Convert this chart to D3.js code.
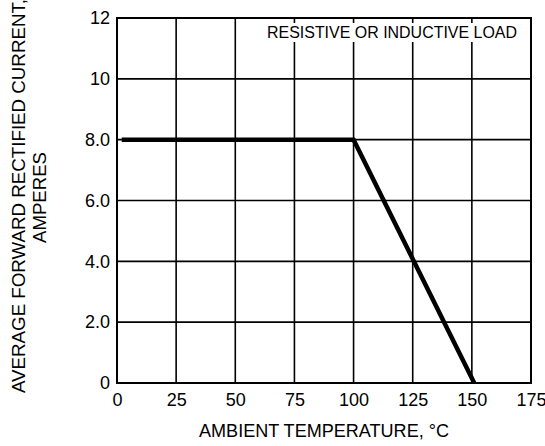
<!DOCTYPE html>
<html>
<head>
<meta charset="utf-8">
<script src="https://cdn.jsdelivr.net/npm/d3@7"></script>
<style>
  body { margin: 0; background: #fff; }
  text { font-family: "Liberation Sans", Arial, sans-serif; fill: #000; }
</style>
</head>
<body>
<svg id="chart" width="545" height="446"></svg>
<script>
// dati
const temperature = [2, 100, 151]
const corrente = [8, 8, 0]
const xTicks = [0, 25, 50, 75, 100, 125, 150, 175]
const yTicks = [0, 2, 4, 6, 8, 10, 12]
const yTickLabels = ["0", "2.0", "4.0", "6.0", "8.0", "10", "12"]
const nota = "RESISTIVE OR INDUCTIVE LOAD"

const svg = d3.select('#chart')
const pLeft = 117, pRight = 531, pTop = 18, pBottom = 383
const font = '"Liberation Sans", Arial, sans-serif'

const x = d3.scaleLinear().domain([0, 175]).range([pLeft, pRight])
const y = d3.scaleLinear().domain([0, 12]).range([pBottom, pTop])

// griglia
svg.append('g')
  .selectAll('line.vx')
  .data(xTicks.slice(1, -1)).enter()
  .append('line')
  .attr('x1', d => x(d)).attr('x2', d => x(d))
  .attr('y1', pTop).attr('y2', pBottom)
  .attr('stroke', '#000').attr('stroke-width', 1.6)

svg.append('g')
  .selectAll('line.hy')
  .data(yTicks.slice(1, -1)).enter()
  .append('line')
  .attr('x1', pLeft).attr('x2', pRight)
  .attr('y1', d => y(d)).attr('y2', d => y(d))
  .attr('stroke', '#000').attr('stroke-width', 1.6)

// nota in alto a destra con sfondo bianco
const notaText = svg.append('text')
  .attr('x', 267).attr('y', 38)
  .attr('font-size', '16px')
  .attr('textLength', 250).attr('lengthAdjust', 'spacingAndGlyphs')
  .text(nota)
const bb = notaText.node().getBBox()
svg.insert('rect', 'text')
  .attr('x', bb.x - 2).attr('y', 23)
  .attr('width', bb.width + 4).attr('height', 19)
  .attr('fill', '#fff')

// cornice
svg.append('rect')
  .attr('x', pLeft).attr('y', pTop)
  .attr('width', pRight - pLeft).attr('height', pBottom - pTop)
  .attr('fill', 'none').attr('stroke', '#000').attr('stroke-width', 2)

// assi (solo etichette)
const ax = svg.append('g')
  .attr('transform', `translate(0,${pBottom})`)
  .call(d3.axisBottom(x).tickValues(xTicks).tickSize(0).tickPadding(10))
ax.select('.domain').remove()
ax.selectAll('text').attr('font-size', '18px').attr('font-family', font)

const ay = svg.append('g')
  .attr('transform', `translate(${pLeft},0)`)
  .call(d3.axisLeft(y).tickValues(yTicks).tickSize(0).tickPadding(7)
    .tickFormat((d, i) => yTickLabels[i]))
ay.select('.domain').remove()
ay.selectAll('text').attr('font-size', '18px').attr('font-family', font)

// curva di derating
const linea = d3.line().x(d => x(d[0])).y(d => y(d[1]))
svg.append('path')
  .datum(d3.zip(temperature, corrente))
  .attr('d', linea)
  .attr('fill', 'none').attr('stroke', '#000').attr('stroke-width', 4.5)

// titoli assi
svg.append('text')
  .attr('x', 324).attr('y', 437)
  .attr('text-anchor', 'middle')
  .attr('font-size', '18px')
  .attr('textLength', 250).attr('lengthAdjust', 'spacingAndGlyphs')
  .text('AMBIENT TEMPERATURE, °C')

const ylab = svg.append('g').attr('transform', 'translate(25,196) rotate(-90)')
ylab.append('text')
  .attr('x', -197)
  .attr('font-size', '18.5px')
  .attr('textLength', 394).attr('lengthAdjust', 'spacingAndGlyphs')
  .text('AVERAGE FORWARD RECTIFIED CURRENT,')
ylab.append('text')
  .attr('y', 21).attr('x', -47)
  .attr('font-size', '18.5px')
  .attr('textLength', 91).attr('lengthAdjust', 'spacingAndGlyphs')
  .text('AMPERES')
</script>
</body>
</html>
